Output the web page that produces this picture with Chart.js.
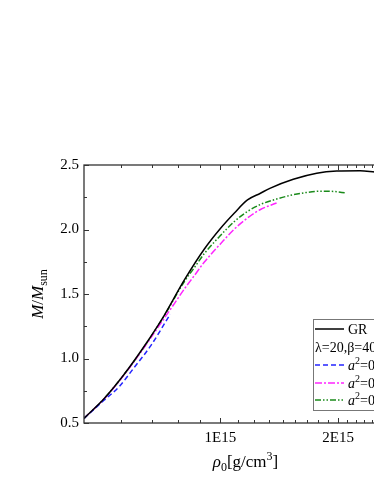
<!DOCTYPE html>
<html>
<head>
<meta charset="utf-8">
<script src="https://cdn.jsdelivr.net/npm/chart.js@4.4.1/dist/chart.umd.min.js"></script>
<style>
  html,body{margin:0;padding:0;background:#fff;}
  #clip{width:374px;height:484px;overflow:hidden;position:relative;}
  #wrap{position:absolute;left:0;top:0;width:430px;height:484px;}
</style>
</head>
<body>
<div id="clip"><div id="wrap"><canvas id="c" width="430" height="484"></canvas></div></div>
<script>
// ---- data (rho in g/cm^3, mass in solar masses) ----
const rhoGR = [0.448e15,0.504e15,0.567e15,0.638e15,0.718e15,0.809e15,0.910e15,1.000e15,1.086e15,1.173e15,1.266e15,1.338e15,1.536e15,1.763e15,1.984e15,2.276e15,2.483e15,2.89e15];
const massGR = [0.536,0.688,0.876,1.093,1.333,1.609,1.849,2.008,2.128,2.229,2.281,2.319,2.389,2.436,2.453,2.456,2.446,2.430];

const rhoA1 = [0.448e15,0.504e15,0.551e15,0.602e15,0.664e15,0.744e15];
const massA1 = [0.536,0.676,0.782,0.930,1.100,1.343];

const rhoA2 = [0.448e15,0.504e15,0.567e15,0.638e15,0.718e15,0.762e15,0.809e15,0.858e15,0.910e15,1.000e15,1.086e15,1.173e15,1.266e15,1.392e15];
const massA2 = [0.536,0.686,0.872,1.085,1.310,1.424,1.539,1.643,1.748,1.888,2.004,2.089,2.155,2.205];

const rhoA3 = [0.448e15,0.504e15,0.567e15,0.638e15,0.718e15,0.809e15,0.858e15,0.910e15,1.000e15,1.086e15,1.173e15,1.266e15,1.392e15,1.512e15,1.652e15,1.805e15,1.949e15,2.092e15];
const massA3 = [0.536,0.688,0.876,1.088,1.330,1.597,1.705,1.814,1.953,2.062,2.140,2.194,2.236,2.265,2.286,2.297,2.295,2.283];

const seriesNames = ["GR", "a2=0.1", "a2=0.3", "a2=0.5"];
const legendNote = "λ=20,β=40";
const aValues = ["0.1", "0.3", "0.5"];

const xTickValues = [1e15, 2e15];
const xTickLabels = ["1E15", "2E15"];
const xMinorTicks = [5/9,6/9,7/9,8/9,1+1/9,1+2/9,1+3/9,1+4/9,1+5/9,1+6/9,1+7/9,1+8/9,2+1/9,2+2/9,2+3/9,2+4/9,2+5/9,2+6/9,2+7/9,2+8/9].map(v=>v*1e15);
const yTickValues = [0.5,1.0,1.5,2.0,2.5];
const yMinorTicks = [0.75,1.25,1.75,2.25];

const X_MIN = 0.448e15, X_MAX = 3e15;
const FONT = "'Liberation Serif', 'Times New Roman', serif";

function pts(xs, ys){ return xs.map((v,i)=>({x:v, y:ys[i]})); }

const styles = [
  {color:'#000000', dash:[]},
  {color:'#2424ff', dash:[5,3]},
  {color:'#ff24ff', dash:[7,2,2,2]},
  {color:'#1a8a1a', dash:[6,2,1.5,2,1.5,2]}
];

const datasets = [
  pts(rhoGR, massGR), pts(rhoA1, massA1), pts(rhoA2, massA2), pts(rhoA3, massA3)
].map((d,i)=>({
  label: seriesNames[i],
  data: d,
  borderColor: styles[i].color,
  borderDash: styles[i].dash,
  borderWidth: 1.5,
  pointRadius: 0,
  fill: false,
  cubicInterpolationMode: 'monotone'
}));

function drawRuns(ctx, runs, x, y, align){
  let total = 0;
  runs.forEach(r=>{ ctx.font = r.font; r.w = ctx.measureText(r.t).width; total += r.w; });
  let cx = align==='center' ? x - total/2 : x;
  runs.forEach(r=>{ ctx.font = r.font; ctx.fillText(r.t, cx, y + (r.dy||0)); cx += r.w; });
}

const framePlugin = {
  id: 'frame',
  afterDatasetsDraw(chart){
    const {ctx, chartArea:a, scales:{x, y}} = chart;
    ctx.save();
    ctx.strokeStyle = '#333';
    ctx.lineWidth = 1.3;
    ctx.strokeRect(a.left, a.top, a.right - a.left, a.bottom - a.top);
    ctx.lineWidth = 1;
    const seg = (x1,y1,x2,y2)=>{ ctx.beginPath(); ctx.moveTo(x1,y1); ctx.lineTo(x2,y2); ctx.stroke(); };
    xTickValues.forEach(v=>{ const p = Math.round(x.getPixelForValue(v))+0.5; seg(p,a.bottom,p,a.bottom-5); seg(p,a.top,p,a.top+5); });
    xMinorTicks.forEach(v=>{ if (v < X_MIN || v > X_MAX) return; const p = Math.round(x.getPixelForValue(v))+0.5; seg(p,a.bottom,p,a.bottom-3); seg(p,a.top,p,a.top+3); });
    yTickValues.forEach(v=>{ const p = Math.round(y.getPixelForValue(v))+0.5; seg(a.left,p,a.left+5,p); seg(a.right,p,a.right-5,p); });
    yMinorTicks.forEach(v=>{ const p = Math.round(y.getPixelForValue(v))+0.5; seg(a.left,p,a.left+3,p); seg(a.right,p,a.right-3,p); });

    // axis titles
    ctx.fillStyle = '#000';
    ctx.textBaseline = 'alphabetic';
    ctx.textAlign = 'left';
    const midX = (a.left + a.right)/2;
    drawRuns(ctx, [
      {t:'ρ', font:`italic 17px ${FONT}`},
      {t:'0', font:`12px ${FONT}`, dy:4},
      {t:'[g/cm', font:`17px ${FONT}`},
      {t:'3', font:`12px ${FONT}`, dy:-7},
      {t:']', font:`17px ${FONT}`}
    ], midX, 467, 'center');

    ctx.save();
    ctx.translate(43, (a.top + a.bottom)/2);
    ctx.rotate(-Math.PI/2);
    drawRuns(ctx, [
      {t:'M', font:`italic 17px ${FONT}`},
      {t:'/', font:`17px ${FONT}`},
      {t:'M', font:`italic 17px ${FONT}`},
      {t:'sun', font:`12px ${FONT}`, dy:4}
    ], 0, 0, 'center');
    ctx.restore();

    // legend
    const lx = 313, ly = 319, lw = 88, lh = 91;
    ctx.fillStyle = '#fff';
    ctx.fillRect(lx, ly, lw, lh);
    ctx.strokeStyle = '#777';
    ctx.lineWidth = 1;
    ctx.strokeRect(lx+0.5, ly+0.5, lw, lh);
    const rows = [329, 347, 365, 383, 400];
    ctx.textBaseline = 'middle';
    const drawLine = (i, yy)=>{
      ctx.save();
      ctx.strokeStyle = styles[i].color;
      ctx.setLineDash(styles[i].dash);
      ctx.lineWidth = 1.5;
      seg(315, yy, 344, yy);
      ctx.restore();
    };
    drawLine(0, rows[0]);
    ctx.fillStyle = '#000';
    drawRuns(ctx, [{t:seriesNames[0], font:`14px ${FONT}`}], 348, rows[0]+1, 'left');
    drawRuns(ctx, [{t:legendNote, font:`14px ${FONT}`}], 315, rows[1]+1, 'left');
    for (let k=0;k<3;k++){
      drawLine(k+1, rows[k+2]);
      ctx.fillStyle = '#000';
      drawRuns(ctx, [
        {t:'a', font:`italic 14px ${FONT}`},
        {t:'2', font:`10px ${FONT}`, dy:-5},
        {t:'=' + aValues[k], font:`14px ${FONT}`}
      ], 348, rows[k+2]+1, 'left');
    }
    ctx.restore();
  }
};

new Chart(document.getElementById('c'), {
  type: 'line',
  data: { datasets },
  options: {
    responsive: false,
    animation: false,
    layout: { padding: { left: 0, top: 165, right: 23, bottom: 0 } },
    plugins: { legend: { display: false }, tooltip: { enabled: false } },
    scales: {
      x: {
        type: 'logarithmic',
        min: X_MIN, max: X_MAX,
        grid: { display: false, drawTicks: false },
        border: { display: false },
        afterBuildTicks: s => { s.ticks = xTickValues.map(v=>({value:v})); },
        afterFit: s => { s.height = 61; },
        ticks: {
          autoSkip: false, maxRotation: 0, padding: 6, color: '#000',
          font: { family: FONT, size: 15 },
          callback: (v) => { const i = xTickValues.indexOf(v); return i >= 0 ? xTickLabels[i] : ''; }
        }
      },
      y: {
        type: 'linear',
        min: 0.5, max: 2.5,
        grid: { display: false, drawTicks: false },
        border: { display: false },
        afterBuildTicks: s => { s.ticks = yTickValues.map(v=>({value:v})); },
        afterFit: s => { s.width = 84; },
        ticks: {
          padding: 5, color: '#000',
          font: { family: FONT, size: 15 },
          callback: v => Number(v).toFixed(1)
        }
      }
    }
  },
  plugins: [framePlugin]
});
</script>
</body>
</html>
